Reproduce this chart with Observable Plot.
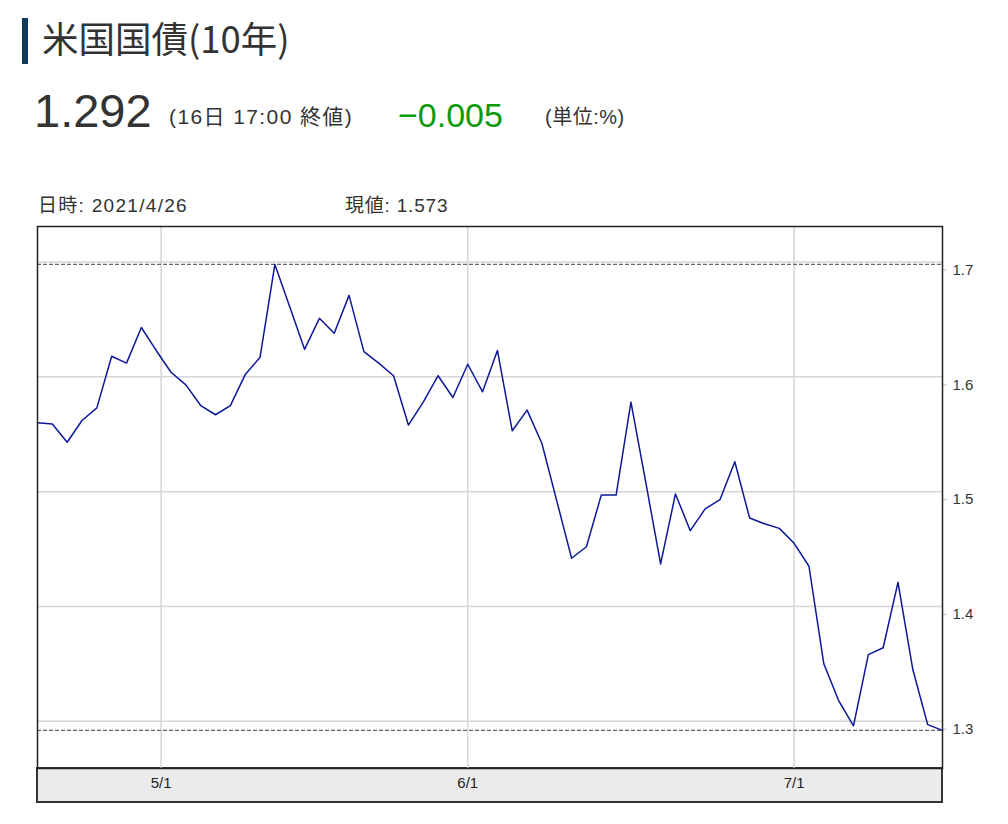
<!DOCTYPE html>
<html><head><meta charset="utf-8">
<script src="https://cdn.jsdelivr.net/npm/d3@7"></script>
<script src="https://cdn.jsdelivr.net/npm/@observablehq/plot@0.6"></script>
<style>
  body { margin: 0; width: 1008px; height: 824px; position: relative; background: #fff;
         font-family: "Liberation Sans", "Noto Sans CJK JP", sans-serif; color: #333; }
  .abs { position: absolute; line-height: 1; white-space: nowrap; }
  #bar { position: absolute; left: 22px; top: 18px; width: 6px; height: 46px; background: #0e3a5c; }
  #band { position: absolute; left: 36px; top: 767px; width: 907px; height: 36px; box-sizing: border-box;
          background: #ebebeb; border: 2px solid #333; }
  #chart { position: absolute; left: 0; top: 190px; }
  #chart svg { background: transparent; }
</style></head>
<body>
<div id="bar"></div>
<div class="abs" id="title" style="left:42px; top:20px; font-size:36.5px; font-family:'Noto Sans CJK JP','Liberation Sans',sans-serif;"></div>
<div class="abs" id="last" style="left:34px; top:87px; font-size:47px;"></div>
<div class="abs" id="stamp" style="left:169px; top:106px; font-size:21px; letter-spacing:1.4px;"></div>
<div class="abs" id="chg" style="left:398px; top:98px; font-size:34px; color:#0a9a0a;"></div>
<div class="abs" id="unit" style="left:545px; top:107px; font-size:20px; letter-spacing:0.5px;"></div>
<div class="abs" id="hoverDate" style="left:38px; top:196px; font-size:19px; letter-spacing:1.3px;"></div>
<div class="abs" id="hoverVal" style="left:345px; top:196px; font-size:19px; letter-spacing:0.8px;"></div>
<div id="band"></div>
<div id="chart"></div>
<script>
// ---- data ----
const titleText = "米国国債(10年)";
const lastValue = "1.292";
const stampText = "(16日 17:00 終値)";
const changeText = "−0.005";
const unitText = "(単位:%)";
const hoverDateText = "日時: 2021/4/26";
const hoverValueText = "現値: 1.573";

const dateStrings = [
  "2021-04-20","2021-04-21","2021-04-22","2021-04-23","2021-04-26","2021-04-27","2021-04-28","2021-04-29","2021-04-30",
  "2021-05-03","2021-05-04","2021-05-05","2021-05-06","2021-05-07","2021-05-10","2021-05-11","2021-05-12","2021-05-13","2021-05-14",
  "2021-05-17","2021-05-18","2021-05-19","2021-05-20","2021-05-21","2021-05-24","2021-05-25","2021-05-26","2021-05-27","2021-05-28",
  "2021-06-01","2021-06-02","2021-06-03","2021-06-04","2021-06-07","2021-06-08","2021-06-09","2021-06-10","2021-06-11",
  "2021-06-14","2021-06-15","2021-06-16","2021-06-17","2021-06-18","2021-06-21","2021-06-22","2021-06-23","2021-06-24","2021-06-25",
  "2021-06-28","2021-06-29","2021-06-30",
  "2021-07-01","2021-07-02","2021-07-06","2021-07-07","2021-07-08","2021-07-09","2021-07-12","2021-07-13","2021-07-14","2021-07-15","2021-07-16"
];
const yields = [
  1.560,1.559,1.543,1.562,1.573,1.618,1.612,1.643,1.623,
  1.604,1.593,1.575,1.567,1.575,1.602,1.617,1.698,1.661,1.624,
  1.651,1.638,1.671,1.622,1.612,1.601,1.558,1.578,1.601,1.582,
  1.611,1.587,1.623,1.553,1.571,1.542,1.492,1.442,1.452,
  1.497,1.497,1.578,1.508,1.437,1.498,1.466,1.485,1.493,1.526,
  1.477,1.472,1.468,
  1.455,1.435,1.350,1.318,1.296,1.358,1.364,1.421,1.345,1.297,1.292
];
const xTickStrings = ["2021-05-01","2021-06-01","2021-07-01"];
const xTickLabels = ["5/1","6/1","7/1"];
const yTicks = [1.3, 1.4, 1.5, 1.6, 1.7];
const yDomain = [1.2588, 1.731];

// ---- header ----
document.getElementById("title").textContent = titleText;
document.getElementById("last").textContent = lastValue;
document.getElementById("stamp").textContent = stampText;
document.getElementById("chg").textContent = changeText;
document.getElementById("unit").textContent = unitText;
document.getElementById("hoverDate").textContent = hoverDateText;
document.getElementById("hoverVal").textContent = hoverValueText;

// ---- chart ----
const W = 1008, H = 630, ML = 37, MR = 66, MT = 36, MB = 52;
const dates = dateStrings.map(s => new Date(s + "T00:00:00Z"));
const xTicks = xTickStrings.map(s => new Date(s + "T00:00:00Z"));
const tickLabelOf = d => xTickLabels[xTicks.findIndex(t => +t === +d)];
// trading-day axis: each session gets an equal slot (piecewise time scale)
const xRange = dates.map((_, i) => ML + i * (W - ML - MR) / (dates.length - 1));

const chart = Plot.plot({
  width: W, height: H,
  marginLeft: ML, marginRight: MR, marginTop: MT, marginBottom: MB,
  style: {fontFamily: "'Liberation Sans','Noto Sans CJK JP',sans-serif", color: "#333", background: "transparent"},
  x: {type: "utc", domain: dates, range: xRange},
  y: {domain: yDomain},
  marks: [
    Plot.gridX(xTicks, {stroke: "#d6d6d6", strokeOpacity: 1, strokeWidth: 1.5}),
    Plot.gridY(yTicks, {stroke: "#d6d6d6", strokeOpacity: 1, strokeWidth: 1.5}),
    Plot.ruleY([d3.min(yields), d3.max(yields)], {stroke: "#666", strokeWidth: 1.2, strokeDasharray: "4,2"}),
    Plot.line(yields, {x: dates, y: yields, stroke: "#0c1899", strokeWidth: 1.5}),
    Plot.axisY(yTicks, {anchor: "right", tickSize: 4, tickPadding: 6, stroke: "#b8cce0", fill: "#333",
      fontSize: 15, dy: 8, tickFormat: d3.format(".1f")}),
    Plot.axisX(xTicks, {anchor: "bottom", tickSize: 0, tickPadding: 9, fill: "#222", fontSize: 15,
      tickFormat: tickLabelOf}),
    Plot.frame({stroke: "#222", strokeWidth: 1.5})
  ]
});
document.getElementById("chart").appendChild(chart);
</script>
</body></html>
